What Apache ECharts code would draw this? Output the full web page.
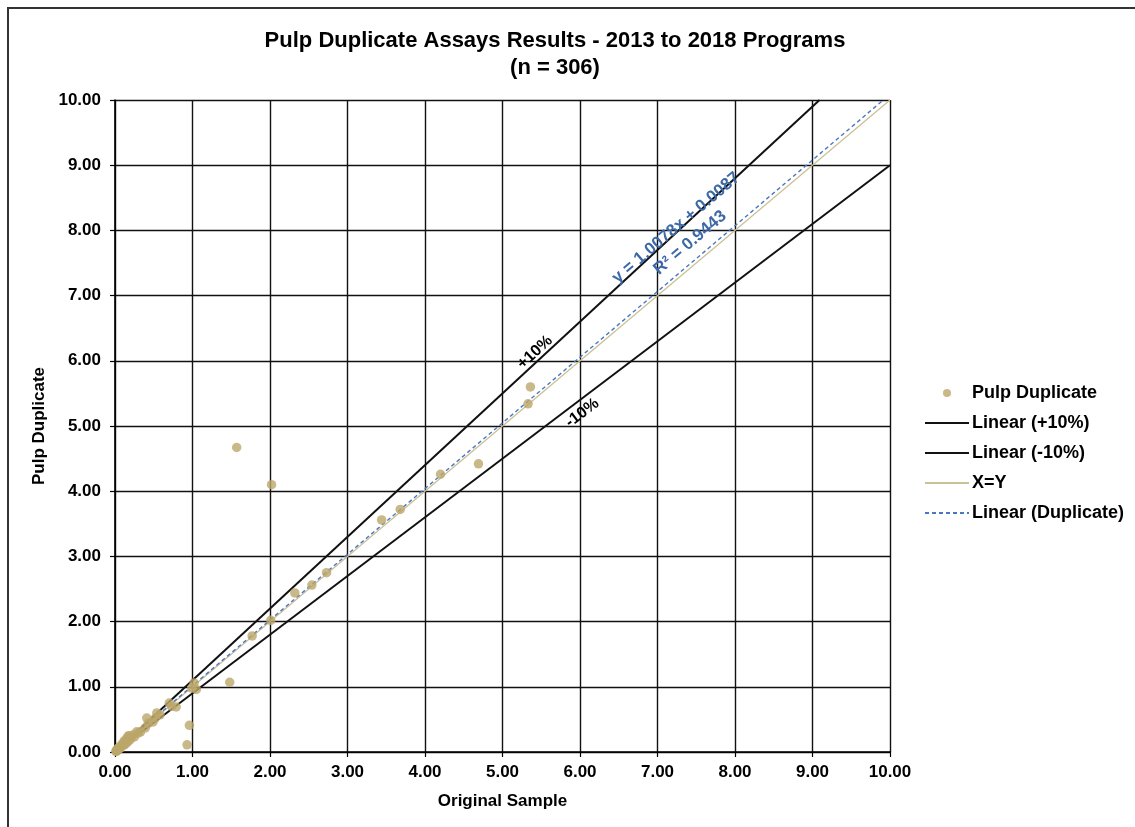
<!DOCTYPE html>
<html>
<head>
<meta charset="utf-8">
<title>Pulp Duplicate Assays Results</title>
<script src="https://cdn.jsdelivr.net/npm/echarts@6/dist/echarts.min.js"></script>
<style>
  html, body { margin: 0; padding: 0; background: #ffffff; }
  #chart { width: 1135px; height: 827px; }
</style>
</head>
<body>
<div id="chart"></div>
<script>
// Original vs. pulp duplicate assay pairs (g/t)
const originalSample = [
  0.01, 0.02, 0.02, 0.03, 0.04, 0.04, 0.05, 0.06, 0.07, 0.08,
  0.09, 0.10, 0.11, 0.12, 0.12, 0.14, 0.15, 0.16, 0.17, 0.18,
  0.19, 0.21, 0.23, 0.25, 0.28, 0.30, 0.33, 0.39, 0.41, 0.43,
  0.49, 0.52, 0.54, 0.58, 0.70, 0.73, 0.79, 0.93, 0.96, 0.99,
  1.02, 1.05, 1.48, 1.57, 1.77, 2.01, 2.02, 2.32, 2.54, 2.73,
  3.44, 3.68, 4.20, 4.69, 5.33, 5.36
];
const pulpDuplicate = [
  0.01, 0.03, 0.01, 0.04, 0.03, 0.06, 0.05, 0.08, 0.06, 0.09,
  0.12, 0.10, 0.14, 0.17, 0.11, 0.13, 0.21, 0.15, 0.24, 0.25,
  0.18, 0.22, 0.26, 0.23, 0.31, 0.29, 0.31, 0.37, 0.52, 0.44,
  0.46, 0.52, 0.60, 0.57, 0.75, 0.70, 0.69, 0.11, 0.41, 0.98,
  1.06, 0.96, 1.07, 4.67, 1.78, 2.02, 4.10, 2.44, 2.56, 2.75,
  3.56, 3.72, 4.26, 4.42, 5.34, 5.60
];

// Reference lines and regression fit
const axisMin = 0;
const axisMax = 10;
const plusTen = 1.10;
const minusTen = 0.90;
const fitSlope = 1.0078;
const fitIntercept = 0.0087;
const fitR2 = 0.9443;

const scatterData = originalSample.map((x, i) => [x, pulpDuplicate[i]]);
const plusLine = [[axisMin, axisMin * plusTen], [axisMax / plusTen, axisMax]];
const minusLine = [[axisMin, axisMin * minusTen], [axisMax, axisMax * minusTen]];
const xyLine = [[axisMin, axisMin], [axisMax, axisMax]];
const fitLine = [[axisMin, fitIntercept], [(axisMax - fitIntercept) / fitSlope, axisMax]];

const FONT = '"Liberation Sans", Arial, sans-serif';
const chart = echarts.init(document.getElementById('chart'), null, { renderer: 'canvas' });

const axisCommon = {
  type: 'value',
  min: axisMin,
  max: axisMax,
  interval: 1,
  axisLine: { show: true, onZero: false, lineStyle: { color: '#000', width: 1.6 } },
  axisTick: { show: true, length: 5, lineStyle: { color: '#000', width: 1.2 } },
  splitLine: { show: true, lineStyle: { color: '#111', width: 1.4 } },
  axisLabel: {
    color: '#000', fontFamily: FONT, fontWeight: 'bold', fontSize: 17,
    formatter: v => v.toFixed(2)
  },
  nameLocation: 'middle',
  nameTextStyle: { color: '#000', fontFamily: FONT, fontWeight: 'bold', fontSize: 17 }
};

// Line entries in the legend show only the stroke, without a centre marker
const legendLine = name => ({ name: name, itemStyle: { opacity: 0 } });

chart.setOption({
  animation: false,
  backgroundColor: '#ffffff',
  title: {
    text: 'Pulp Duplicate Assays Results - 2013 to 2018 Programs\n(n = 306)',
    left: 550, top: 22, textAlign: 'center',
    textStyle: { color: '#000', fontFamily: FONT, fontWeight: 'bold', fontSize: 22, lineHeight: 27 }
  },
  grid: { left: 115, top: 100, right: 245, bottom: 75, containLabel: false },
  xAxis: Object.assign({}, axisCommon, { name: 'Original Sample', nameGap: 41,
    axisLabel: Object.assign({}, axisCommon.axisLabel, { margin: 12 }) }),
  yAxis: Object.assign({}, axisCommon, { name: 'Pulp Duplicate', nameGap: 66,
    axisLabel: Object.assign({}, axisCommon.axisLabel, { margin: 14 }) }),
  legend: {
    orient: 'vertical',
    left: 919, top: 379,
    itemWidth: 44, itemHeight: 8, itemGap: 12,
    textStyle: { color: '#000', fontFamily: FONT, fontWeight: 'bold', fontSize: 18, padding: [0, 0, 0, -2] },
    data: [
      'Pulp Duplicate',
      legendLine('Linear (+10%)'),
      legendLine('Linear (-10%)'),
      legendLine('X=Y'),
      legendLine('Linear (Duplicate)')
    ]
  },
  series: [
    {
      name: 'Pulp Duplicate', type: 'scatter', data: scatterData,
      symbol: 'circle', symbolSize: 9.5, z: 5,
      itemStyle: { color: '#bba66a' }
    },
    {
      name: 'Linear (+10%)', type: 'line', data: plusLine, symbol: 'none',
      lineStyle: { color: '#111', width: 2 }, itemStyle: { color: '#111' }, z: 3
    },
    {
      name: 'Linear (-10%)', type: 'line', data: minusLine, symbol: 'none',
      lineStyle: { color: '#111', width: 2 }, itemStyle: { color: '#111' }, z: 3
    },
    {
      name: 'X=Y', type: 'line', data: xyLine, symbol: 'none',
      lineStyle: { color: '#cdc097', width: 1.3 }, itemStyle: { color: '#cdc097' }, z: 4
    },
    {
      name: 'Linear (Duplicate)', type: 'line', data: fitLine, symbol: 'none',
      lineStyle: { color: '#4a78c0', width: 1.4, type: [4, 3] }, itemStyle: { color: '#4a78c0' }, z: 4
    }
  ]
});

// Slanted annotations placed in data coordinates along the reference lines
function slopeAngle(slope) {
  const a = chart.convertToPixel({ gridIndex: 0 }, [0, 0]);
  const b = chart.convertToPixel({ gridIndex: 0 }, [1, slope]);
  return Math.atan2(a[1] - b[1], b[0] - a[0]);
}
function note(text, at, slope, color, size) {
  const p = chart.convertToPixel({ gridIndex: 0 }, at);
  return {
    type: 'text', x: p[0], y: p[1], rotation: slopeAngle(slope), z: 10,
    style: {
      text: text, fill: color, font: 'bold ' + size + 'px ' + FONT,
      textAlign: 'center', textVerticalAlign: 'middle'
    }
  };
}

chart.setOption({
  graphic: [
    {
      type: 'polyline', silent: true, z: 0,
      shape: { points: [[8, 900], [8, 8], [1200, 8]] },
      style: { stroke: '#333', lineWidth: 2, fill: null }
    },
    note('+10%', [5.42, 6.13], plusTen, '#000', 16),
    note('-10%', [6.03, 5.20], minusTen, '#000', 16),
    note('y = ' + fitSlope.toFixed(4) + 'x + ' + fitIntercept.toFixed(4), [7.24, 8.04], fitSlope, '#3c68a6', 17),
    note('R\u00b2 = ' + fitR2.toFixed(4), [7.42, 7.81], fitSlope, '#3c68a6', 17)
  ]
});
</script>
</body>
</html>
